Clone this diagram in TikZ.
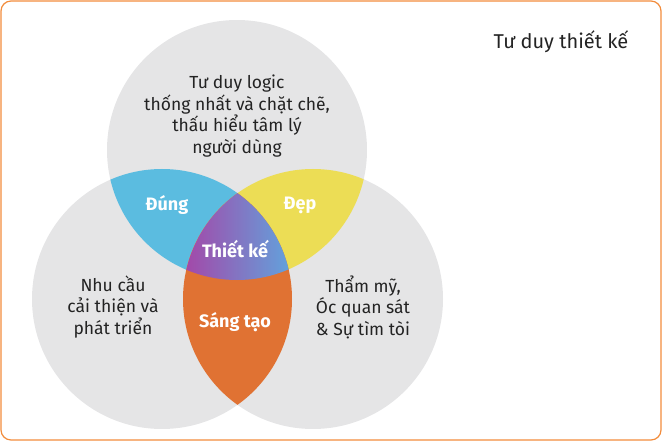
\documentclass[tikz,border=0pt]{standalone}
\usepackage{fontspec}
\setmainfont{Fira Sans}
\usepackage{tikz}
\usetikzlibrary{calc,positioning}
\definecolor{ringgrey}{HTML}{E5E5E6}
\definecolor{dungblue}{HTML}{5BBCE0}
\definecolor{depyellow}{HTML}{ECDD55}
\definecolor{sangorange}{HTML}{E07233}
\definecolor{tkmagenta}{HTML}{A447A8}
\definecolor{tkblue}{HTML}{62A2DC}
\definecolor{frameorange}{HTML}{F28C3C}
\definecolor{txtdark}{HTML}{232323}
\tikzset{
  plain/.style={text=txtdark, align=center, font=\fontsize{17.5}{21.5}\selectfont},
  bold/.style={text=white, font=\fontsize{18}{20}\bfseries\selectfont}
}

\begin{document}
\begin{tikzpicture}[x=1pt,y=-1pt]
  \useasboundingbox (0,0) rectangle (662,441);
  \coordinate (T) at (237,150);
  \coordinate (L) at (162,299);
  \coordinate (R) at (313,299);
  \fill[ringgrey] (T) circle[radius=130pt] (L) circle[radius=130pt] (R) circle[radius=130pt];
  % pairwise overlaps
  \begin{scope} \clip (T) circle[radius=130pt]; \fill[dungblue] (L) circle[radius=130pt]; \end{scope}
  \begin{scope} \clip (T) circle[radius=130pt]; \fill[depyellow] (R) circle[radius=130pt]; \end{scope}
  \begin{scope} \clip (L) circle[radius=130pt]; \fill[sangorange] (R) circle[radius=130pt]; \end{scope}
  % middle of all three
  \begin{scope}
    \clip (T) circle[radius=130pt];
    \clip (L) circle[radius=130pt];
    \clip (R) circle[radius=130pt];
    \shade[left color=tkmagenta, right color=tkblue] (184,188) rectangle (290,284);
  \end{scope}
  \draw[frameorange, line width=1.2pt, rounded corners=10pt] (1,1) rectangle (661,440);
  \node[plain] (top) at (237,116) {Tư duy logic\\thống nhất và chặt chẽ,\\thấu hiểu tâm lý\\người dùng};
  \node[plain] (left) at (113,307) {Nhu cầu\\cải thiện và\\phát triển};
  \node[plain] (right) at (363,307) {Thẩm mỹ,\\Óc quan sát\\\& Sự tìm tòi};
  \node[bold] (dung) at (167,205) {Đúng};
  \node[bold] (dep) at (300,205) {Đẹp};
  \node[bold] (thietke) at (235,249) {Thiết kế};
  \node[bold] (sangtao) at (235,322) {Sáng tạo};
  \node[plain, font=\fontsize{20}{24}\selectfont] (title) at (561,42) {Tư duy thiết kế};
\end{tikzpicture}
\end{document}
